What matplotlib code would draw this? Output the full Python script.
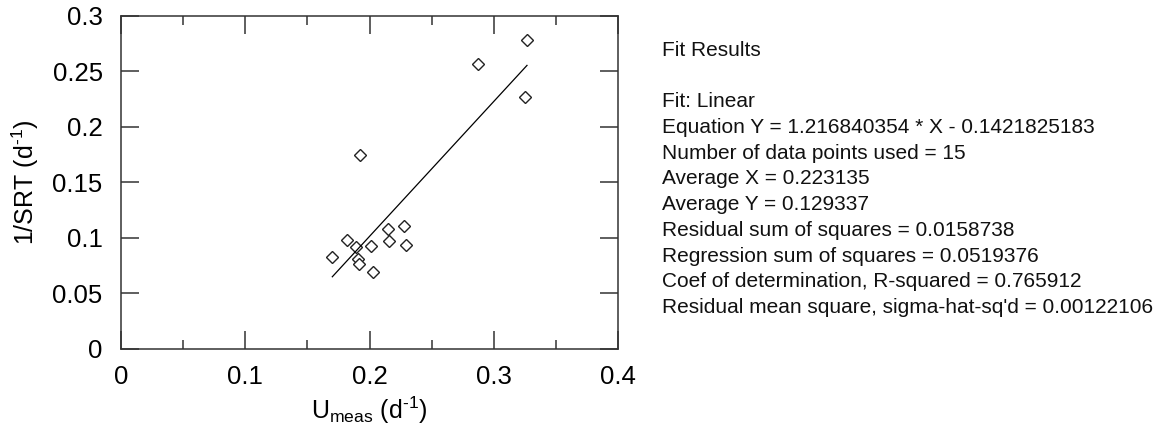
import matplotlib
matplotlib.use("Agg")
import matplotlib.pyplot as plt
import numpy as np

plt.rcParams['font.family'] = ['Liberation Sans', 'DejaVu Sans']
plt.rcParams['mathtext.fontset'] = 'custom'
plt.rcParams['mathtext.rm'] = 'Liberation Sans'
plt.rcParams['mathtext.it'] = 'Liberation Sans'
plt.rcParams['mathtext.bf'] = 'Liberation Sans:bold'

# measured growth rate vs 1/SRT
u_meas = [0.3266, 0.2872, 0.3252, 0.1926, 0.2277, 0.2148, 0.1819, 0.2154,
          0.2009, 0.2293, 0.1891, 0.1701, 0.1905, 0.1913, 0.2025]
inv_srt = [0.2778, 0.2565, 0.2267, 0.1745, 0.1108, 0.1075, 0.0979, 0.0970,
           0.0928, 0.0934, 0.0913, 0.0829, 0.0805, 0.0760, 0.0691]

# linear fit results
slope = 1.216840354
intercept = -0.1421825183
n_points = 15
avg_x = "0.223135"
avg_y = "0.129337"
ss_resid = "0.0158738"
ss_regr = "0.0519376"
r_squared = "0.765912"
sigma_sq = "0.00122106"

xticks = [0, 0.1, 0.2, 0.3, 0.4]
xtick_labels = ['0', '0.1', '0.2', '0.3', '0.4']
xminor = [0.05, 0.15, 0.25, 0.35]
yticks = [0, 0.05, 0.1, 0.15, 0.2, 0.25, 0.3]
ytick_labels = ['0', '0.05', '0.1', '0.15', '0.2', '0.25', '0.3']

W, H = 1168, 432
fig = plt.figure(figsize=(W / 100, H / 100), dpi=100)
ax = fig.add_axes([120.7 / W, 1 - 348.7 / H, 497.6 / W, 333.0 / H])

ax.plot(u_meas, inv_srt, linestyle='none', marker='D', markersize=6.5,
        markerfacecolor='white', markeredgecolor='#222222', markeredgewidth=1.0)

xfit = np.array([min(u_meas), max(u_meas)])
ax.plot(xfit, slope * xfit + intercept, color='black', linewidth=0.9)

ax.set_xlim(0, 0.4)
ax.set_ylim(0, 0.3)
ax.set_xticks(xticks)
ax.set_xticklabels(xtick_labels)
ax.set_xticks(xminor, minor=True)
ax.set_yticks(yticks)
ax.set_yticklabels(ytick_labels)

ax.tick_params(which='major', direction='in', length=13, width=1.1,
               top=True, right=True, labelsize=18.5, pad=12, color='#333333')
ax.tick_params(which='minor', direction='in', length=6.5, width=1.1,
               top=True, color='#333333')
ax.tick_params(axis='y', which='major', pad=13)
for s in ax.spines.values():
    s.set_linewidth(1.1)
    s.set_color('#333333')

ax.set_xlabel(r'U$_{\mathregular{meas}}$ (d$^{\text{-1}}$)', fontsize=18, labelpad=4)
ax.set_ylabel(r'1/SRT (d$^{\text{-1}}$)', fontsize=18, labelpad=8)

lines = [
    "Fit Results",
    "",
    "Fit: Linear",
    f"Equation Y = {slope:.9f} * X - {-intercept:.10f}",
    f"Number of data points used = {n_points}",
    f"Average X = {avg_x}",
    f"Average Y = {avg_y}",
    f"Residual sum of squares = {ss_resid}",
    f"Regression sum of squares = {ss_regr}",
    f"Coef of determination, R-squared = {r_squared}",
    f"Residual mean square, sigma-hat-sq'd = {sigma_sq}",
]
for i, s in enumerate(lines):
    if s:
        fig.text(661.7 / W, 1 - (56 + i * 25.7) / H, s, fontsize=15,
                 va='baseline', ha='left', color='#111111')

fig.savefig('out.png', dpi=100)
